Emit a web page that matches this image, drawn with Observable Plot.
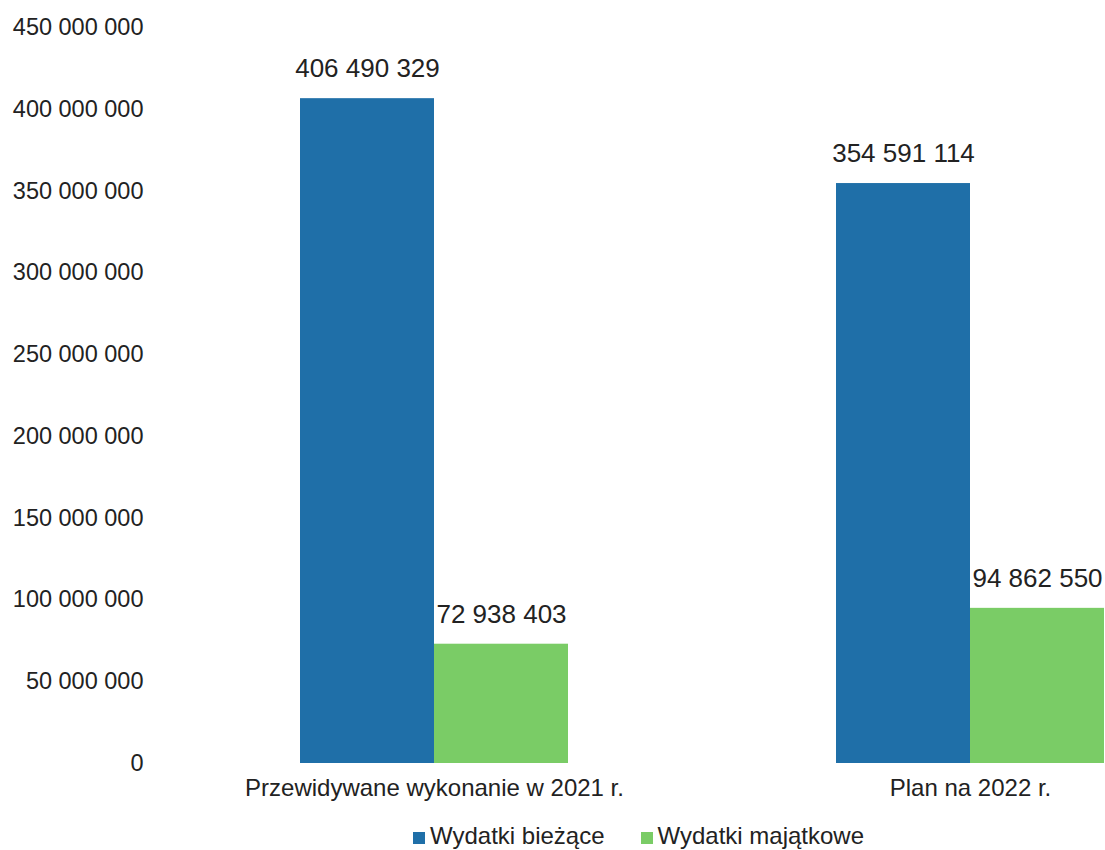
<!DOCTYPE html>
<html>
<head>
<meta charset="utf-8">
<script src="https://cdn.jsdelivr.net/npm/d3@7"></script>
<script src="https://cdn.jsdelivr.net/npm/@observablehq/plot@0.6"></script>
<style>
  body { margin: 0; background: #fff; font-family: "Liberation Sans", Arial, sans-serif; color: #222; }
  #legend { display: flex; align-items: center; margin-left: 413px; height: 36px; margin-top: 8px; font-size: 24px; color: #222; }
  .item { display: flex; align-items: center; margin-right: 36px; }
  .sw { width: 12px; height: 12px; margin-right: 5px; margin-top: 3px; }
</style>
</head>
<body>
<div id="chart"></div>
<div id="legend"></div>
<script>
const categories = ["Przewidywane wykonanie w 2021 r.", "Plan na 2022 r."];
const series = ["Wydatki bieżące", "Wydatki majątkowe"];
const wydatkiBiezace = [406490329, 354591114];
const wydatkiMajatkowe = [72938403, 94862550];
const yTicks = [0, 50000000, 100000000, 150000000, 200000000, 250000000, 300000000, 350000000, 400000000, 450000000];
const colors = ["#1f6fa8", "#7acc66"];

const fmt = d3.formatLocale({thousands: " ", grouping: [3], decimal: ",", currency: ["", ""]}).format(",d");

const data = [];
categories.forEach((c, i) => {
  data.push({cat: c, series: series[0], value: wydatkiBiezace[i]});
  data.push({cat: c, series: series[1], value: wydatkiMajatkowe[i]});
});

const chart = Plot.plot({
  width: 1105,
  height: 810,
  marginLeft: 299,
  marginRight: 1,
  marginTop: 27,
  marginBottom: 47,
  style: {fontFamily: "'Liberation Sans', Arial, sans-serif", color: "#222", background: "#fff"},
  fx: {domain: categories, paddingInner: 0.5, paddingOuter: 0, label: null},
  x: {domain: series, padding: 0, axis: null},
  y: {domain: [0, 450000000], label: null},
  color: {domain: series, range: colors},
  marks: [
    Plot.axisY({ticks: yTicks, tickSize: 0, tickPadding: 157, tickFormat: fmt, fontSize: 23.5, label: null}),
    Plot.barY(data, {fx: "cat", x: "series", y: "value", fill: "series"}),
    Plot.text(data, {fx: "cat", x: "series", y: "value", text: d => fmt(d.value), dy: -30, fontSize: 26, fill: "#222"}),
    Plot.axisFx({anchor: "bottom", tickSize: 0, tickPadding: 15, fontSize: 24, label: null})
  ]
});
document.getElementById("chart").appendChild(chart);

const legend = document.getElementById("legend");
series.forEach((s, i) => {
  const item = document.createElement("div");
  item.className = "item";
  const sw = document.createElement("div");
  sw.className = "sw";
  sw.style.background = colors[i];
  const t = document.createElement("span");
  t.textContent = s;
  item.appendChild(sw);
  item.appendChild(t);
  legend.appendChild(item);
});
</script>
</body>
</html>
